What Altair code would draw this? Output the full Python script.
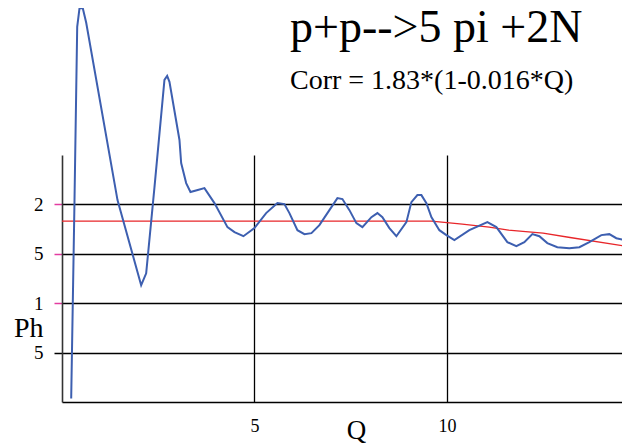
import altair as alt
import pandas as pd

# Blue measured curve
q_vals = [0.239, 0.325, 0.395, 0.455, 0.540, 0.629, 1.442, 2.057, 2.187, 2.403,
          2.662, 2.732, 2.792, 3.052, 3.096, 3.226, 3.338, 3.527, 3.701, 3.961,
          4.299, 4.481, 4.714, 5.000, 5.304, 5.597, 5.779, 5.909, 6.117, 6.299,
          6.481, 6.688, 6.948, 7.156, 7.286, 7.468, 7.649, 7.805, 8.039, 8.195,
          8.325, 8.506, 8.688, 8.948, 9.078, 9.234, 9.338, 9.468, 9.597, 9.805,
          9.987, 10.195, 10.584, 11.052, 11.286, 11.571, 11.805, 12.013, 12.221, 12.403,
          12.610, 12.870, 13.182, 13.442, 13.701, 14.013, 14.221, 14.403, 14.740]
ph_vals = [0.036, 2.044, 3.798, 3.986, 3.986, 3.839, 2.044, 1.182, 1.303, 2.175,
           3.261, 3.301, 3.240, 2.652, 2.419, 2.216, 2.125, 2.145, 2.165, 2.013,
           1.770, 1.719, 1.678, 1.760, 1.912, 2.013, 2.003, 1.912, 1.739, 1.699,
           1.709, 1.790, 1.942, 2.064, 2.054, 1.942, 1.810, 1.770, 1.871, 1.912,
           1.871, 1.760, 1.678, 1.820, 2.023, 2.094, 2.094, 2.013, 1.871, 1.739,
           1.689, 1.638, 1.739, 1.820, 1.770, 1.618, 1.577, 1.618, 1.699, 1.678,
           1.608, 1.567, 1.557, 1.567, 1.618, 1.689, 1.699, 1.658, 1.628]

# Red correction curve
corr_q = [0.0, 9.6, 10.4, 11.1, 11.6, 12.5, 13.2, 14.75]
corr_ph = [1.83, 1.83, 1.80, 1.77, 1.74, 1.71, 1.665, 1.57]

x_ticks = [5, 10]
y_ticks = [0.5, 1, 1.5, 2]

title_text = "p+p-->5 pi +2N"
subtitle_text = "Corr = 1.83*(1-0.016*Q)"

SERIF = "Times New Roman, Liberation Serif, serif"

meas = pd.DataFrame({"Q": q_vals, "Ph": ph_vals})
corr = pd.DataFrame({"Q": corr_q, "Ph": corr_ph})

x_enc = alt.X("Q:Q", scale=alt.Scale(domain=[0, 14.55], nice=False, zero=False),
              axis=alt.Axis(values=x_ticks, title="Q", ticks=False, labelFont=SERIF,
                            labelFontSize=18, labelColor="black", labelPadding=15,
                            domainColor="black", domainWidth=1.5,
                            gridColor="black", gridWidth=1.3, gridOpacity=1,
                            titleFont=SERIF, titleFontSize=27, titleFontWeight="normal",
                            titleColor="black", titleX=294, titleY=36,
                            titleAlign="center", titleBaseline="alphabetic"))
y_enc = alt.Y("Ph:Q", scale=alt.Scale(domain=[0, 2.5], nice=False),
              axis=alt.Axis(values=y_ticks, format="~g",
                            labelExpr="substring(datum.label, length(datum.label) - 1)",
                            title="Ph", tickSize=8, tickWidth=1.5,
                            tickColor={"condition": {"test": "datum.value >= 1", "value": "#e33ca0"},
                                       "value": "black"},
                            labelFont=SERIF, labelFontSize=19, labelColor="black",
                            labelPadding=11,
                            domainColor="#333333", domainWidth=1.6,
                            gridColor="black", gridWidth=1.3, gridOpacity=1,
                            titleFont=SERIF, titleFontSize=28, titleFontWeight="normal",
                            titleColor="black", titleAngle=0, titleAlign="right",
                            titleBaseline="alphabetic", titleX=-19, titleY=181))

red = alt.Chart(corr).mark_line(color="#e8262a", strokeWidth=1.3).encode(x=x_enc, y=y_enc)
blue = alt.Chart(meas).mark_line(color="#3d5fb0", strokeWidth=2, clip=False).encode(x=x_enc, y=y_enc)

chart = alt.layer(red, blue).properties(
    width=560,
    height=247,
    autosize=alt.AutoSizeParams(type="none"),
    padding={"left": 54, "top": 147, "right": 0, "bottom": 42},
    title=alt.TitleParams(text=title_text, subtitle=subtitle_text, anchor="start",
                          frame="group", dx=228, dy=92, offset=0, font=SERIF, fontSize=46,
                          fontWeight="normal", color="black", subtitleFont=SERIF,
                          subtitleFontSize=28, subtitleColor="black", subtitlePadding=15),
).configure_view(strokeWidth=0)

chart.save("out.html", embed_options={"renderer": "svg", "actions": False})
